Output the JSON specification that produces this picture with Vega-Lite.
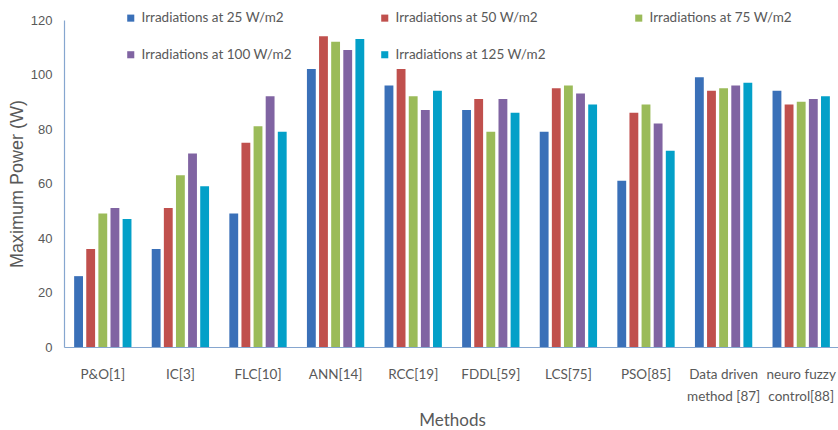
{
  "$schema": "https://vega.github.io/schema/vega-lite/v6.json",
  "width": 776,
  "height": 327,
  "padding": {"top": 11, "left": 8, "right": 0, "bottom": 5},
  "background": "white",
  "data": {
    "values": [
      {"method": "P&O[1]", "series": "Irradiations at 25 W/m2", "power": 26},
      {"method": "P&O[1]", "series": "Irradiations at 50 W/m2", "power": 36},
      {"method": "P&O[1]", "series": "Irradiations at 75 W/m2", "power": 49},
      {"method": "P&O[1]", "series": "Irradiations at 100 W/m2", "power": 51},
      {"method": "P&O[1]", "series": "Irradiations at 125 W/m2", "power": 47},
      {"method": "IC[3]", "series": "Irradiations at 25 W/m2", "power": 36},
      {"method": "IC[3]", "series": "Irradiations at 50 W/m2", "power": 51},
      {"method": "IC[3]", "series": "Irradiations at 75 W/m2", "power": 63},
      {"method": "IC[3]", "series": "Irradiations at 100 W/m2", "power": 71},
      {"method": "IC[3]", "series": "Irradiations at 125 W/m2", "power": 59},
      {"method": "FLC[10]", "series": "Irradiations at 25 W/m2", "power": 49},
      {"method": "FLC[10]", "series": "Irradiations at 50 W/m2", "power": 75},
      {"method": "FLC[10]", "series": "Irradiations at 75 W/m2", "power": 81},
      {"method": "FLC[10]", "series": "Irradiations at 100 W/m2", "power": 92},
      {"method": "FLC[10]", "series": "Irradiations at 125 W/m2", "power": 79},
      {"method": "ANN[14]", "series": "Irradiations at 25 W/m2", "power": 102},
      {"method": "ANN[14]", "series": "Irradiations at 50 W/m2", "power": 114},
      {"method": "ANN[14]", "series": "Irradiations at 75 W/m2", "power": 112},
      {"method": "ANN[14]", "series": "Irradiations at 100 W/m2", "power": 109},
      {"method": "ANN[14]", "series": "Irradiations at 125 W/m2", "power": 113},
      {"method": "RCC[19]", "series": "Irradiations at 25 W/m2", "power": 96},
      {"method": "RCC[19]", "series": "Irradiations at 50 W/m2", "power": 102},
      {"method": "RCC[19]", "series": "Irradiations at 75 W/m2", "power": 92},
      {"method": "RCC[19]", "series": "Irradiations at 100 W/m2", "power": 87},
      {"method": "RCC[19]", "series": "Irradiations at 125 W/m2", "power": 94},
      {"method": "FDDL[59]", "series": "Irradiations at 25 W/m2", "power": 87},
      {"method": "FDDL[59]", "series": "Irradiations at 50 W/m2", "power": 91},
      {"method": "FDDL[59]", "series": "Irradiations at 75 W/m2", "power": 79},
      {"method": "FDDL[59]", "series": "Irradiations at 100 W/m2", "power": 91},
      {"method": "FDDL[59]", "series": "Irradiations at 125 W/m2", "power": 86},
      {"method": "LCS[75]", "series": "Irradiations at 25 W/m2", "power": 79},
      {"method": "LCS[75]", "series": "Irradiations at 50 W/m2", "power": 95},
      {"method": "LCS[75]", "series": "Irradiations at 75 W/m2", "power": 96},
      {"method": "LCS[75]", "series": "Irradiations at 100 W/m2", "power": 93},
      {"method": "LCS[75]", "series": "Irradiations at 125 W/m2", "power": 89},
      {"method": "PSO[85]", "series": "Irradiations at 25 W/m2", "power": 61},
      {"method": "PSO[85]", "series": "Irradiations at 50 W/m2", "power": 86},
      {"method": "PSO[85]", "series": "Irradiations at 75 W/m2", "power": 89},
      {"method": "PSO[85]", "series": "Irradiations at 100 W/m2", "power": 82},
      {"method": "PSO[85]", "series": "Irradiations at 125 W/m2", "power": 72},
      {"method": "Data driven|method [87]", "series": "Irradiations at 25 W/m2", "power": 99},
      {"method": "Data driven|method [87]", "series": "Irradiations at 50 W/m2", "power": 94},
      {"method": "Data driven|method [87]", "series": "Irradiations at 75 W/m2", "power": 95},
      {"method": "Data driven|method [87]", "series": "Irradiations at 100 W/m2", "power": 96},
      {"method": "Data driven|method [87]", "series": "Irradiations at 125 W/m2", "power": 97},
      {"method": "neuro fuzzy|control[88]", "series": "Irradiations at 25 W/m2", "power": 94},
      {"method": "neuro fuzzy|control[88]", "series": "Irradiations at 50 W/m2", "power": 89},
      {"method": "neuro fuzzy|control[88]", "series": "Irradiations at 75 W/m2", "power": 90},
      {"method": "neuro fuzzy|control[88]", "series": "Irradiations at 100 W/m2", "power": 91},
      {"method": "neuro fuzzy|control[88]", "series": "Irradiations at 125 W/m2", "power": 92}
    ]
  },
  "mark": {"type": "bar"},
  "encoding": {
    "x": {
      "field": "method",
      "type": "nominal",
      "sort": null,
      "scale": {"paddingInner": 0.23, "paddingOuter": 0.115},
      "axis": {
        "title": "Methods",
        "labelAngle": 0,
        "labelExpr": "split(datum.label, '|')",
        "labelLineHeight": 22,
        "labelPadding": 20,
        "ticks": false,
        "titlePadding": 10
      }
    },
    "xOffset": {
      "field": "series",
      "type": "nominal",
      "sort": ["Irradiations at 25 W/m2", "Irradiations at 50 W/m2", "Irradiations at 75 W/m2", "Irradiations at 100 W/m2", "Irradiations at 125 W/m2"],
      "scale": {"paddingInner": 0.27, "paddingOuter": 0.1}
    },
    "y": {
      "field": "power",
      "type": "quantitative",
      "scale": {"domain": [0, 120]},
      "axis": {
        "title": "Maximum Power (W)",
        "values": [0, 20, 40, 60, 80, 100, 120],
        "grid": false,
        "ticks": false,
        "labelPadding": 12,
        "labelFont": "Liberation Sans",
        "labelFontSize": 13,
        "titleFont": "Liberation Sans",
        "titleFontSize": 18,
        "titlePadding": 4
      }
    },
    "color": {
      "field": "series",
      "type": "nominal",
      "scale": {
        "domain": ["Irradiations at 25 W/m2", "Irradiations at 100 W/m2", "Irradiations at 50 W/m2", "Irradiations at 125 W/m2", "Irradiations at 75 W/m2"],
        "range": ["#3A70B8", "#8064A2", "#C0504D", "#03A0C8", "#9BBB59"]
      },
      "legend": {
        "title": null,
        "orient": "none",
        "legendX": 60,
        "legendY": -9,
        "columns": 3,
        "gridAlign": "all",
        "columnPadding": 86,
        "rowPadding": 22,
        "symbolType": "square",
        "symbolSize": 50,
        "symbolStrokeWidth": 0,
        "labelOffset": 4,
        "labelFontSize": 13.5,
        "labelColor": "#595959",
        "labelLimit": 300,
        "padding": 0
      }
    }
  },
  "config": {
    "font": "Lato",
    "view": {"stroke": null},
    "axis": {
      "labelFont": "Lato",
      "titleFont": "Lato",
      "labelFontSize": 13.5,
      "labelColor": "#595959",
      "titleFontSize": 17,
      "titleFontWeight": "normal",
      "titleColor": "#595959",
      "domainColor": "#86A6CF",
      "domainWidth": 1.2
    },
    "legend": {"labelFont": "Lato"}
  }
}
